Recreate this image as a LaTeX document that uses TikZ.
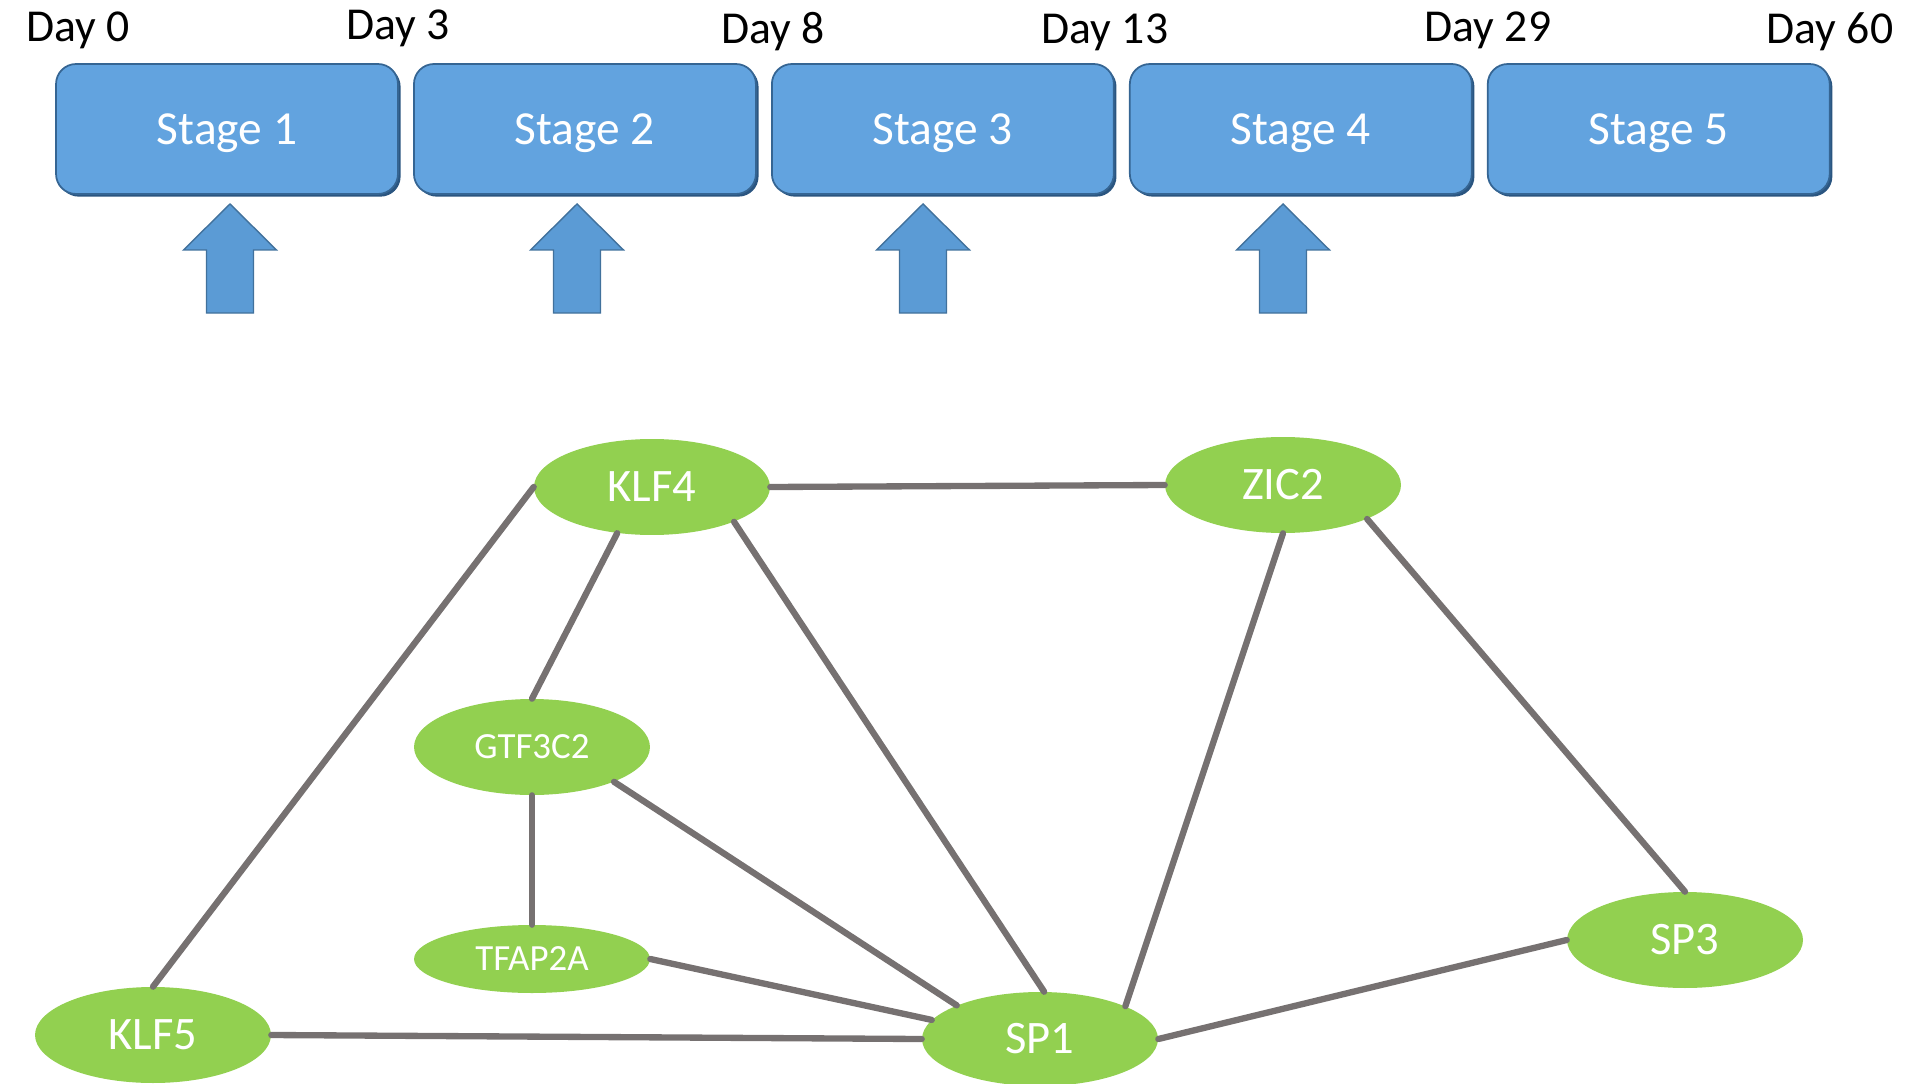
\documentclass[tikz,border=0pt]{standalone}
\usepackage{fontspec}
\setmainfont{Carlito}
\usetikzlibrary{shapes.geometric,shadows}

\definecolor{stageblue}{HTML}{62A3DF}
\definecolor{stageedge}{HTML}{2A5580}
\definecolor{arrowblue}{HTML}{5B9BD5}
\definecolor{arrowedge}{HTML}{41719C}
\definecolor{genegreen}{HTML}{92D050}
\definecolor{linkgray}{HTML}{767171}

\tikzstyle{stage} = [rectangle, rounded corners=0.4cm, minimum width=6.84cm, minimum height=2.6cm, fill=stageblue, draw=stageedge!80!stageblue, line width=1pt, text=white, text depth=0pt, font=\fontsize{27}{30}\selectfont, drop shadow={shadow xshift=1.5pt, shadow yshift=-1.5pt, fill=stageedge, opacity=1}]
\tikzstyle{day} = [anchor=base, font=\fontsize{26}{30}\selectfont]
\tikzstyle{uparrow} = [fill=arrowblue, draw=arrowedge, line width=0.8pt]
\tikzstyle{gene} = [ellipse, minimum width=4.72cm, minimum height=1.92cm, inner sep=0pt, fill=genegreen, text=white, font=\fontsize{26.5}{30}\selectfont]
\tikzstyle{small} = [font=\fontsize{21}{24}\selectfont]
\tikzstyle{link} = [draw=linkgray, line width=3.6pt, line cap=round]

\begin{document}
\begin{tikzpicture}[x=0.02cm, y=-0.02cm, node distance=7.16cm]
    \useasboundingbox (0,0) rectangle (1905,1084);
    % stages
    \node (s1) [stage] at (227,129) {Stage 1};
    \node (s2) [stage, right of=s1] {Stage 2};
    \node (s3) [stage, right of=s2] {Stage 3};
    \node (s4) [stage, right of=s3] {Stage 4};
    \node (s5) [stage, right of=s4] {Stage 5};
    \node (d0) [day] at (78,42) {Day 0};
    \node (d3) [day] at (398,40) {Day 3};
    \node (d8) [day] at (773,44) {Day 8};
    \node (d13) [day] at (1105,44) {Day 13};
    \node (d29) [day] at (1488,42) {Day 29};
    \node (d60) [day] at (1830,44) {Day 60};
    \foreach \x in {230,577,923,1283}
        \draw [uparrow] (\x,204) -- ++(46.5,46) -- ++(-23,0) -- ++(0,63) -- ++(-47,0) -- ++(0,-63) -- ++(-23,0) -- cycle;
    % network
    \node (klf4) [gene] at (652,487) {KLF4};
    \node (zic2) [gene] at (1283,485) {ZIC2};
    \node (gtf) [gene, small] at (532,747) {GTF3C2};
    \node (tfap) [gene, small, minimum height=1.36cm] at (532,959) {TFAP2A};
    \node (klf5) [gene] at (153,1035) {KLF5};
    \node (sp1) [gene, minimum height=1.88cm] at (1040,1039) {SP1};
    \node (sp3) [gene] at (1685,940) {SP3};
    \draw [link] (klf4.east) -- (zic2.west);
    \draw [link] (klf4.west) -- (klf5.north);
    \draw [link] (klf4.233) -- (gtf.north);
    \draw [link] (klf4.-23) -- (sp1.85);
    \draw [link] (zic2.south) -- (sp1.21);
    \draw [link] (zic2.-22) -- (sp3.north);
    \draw [link] (gtf.south) -- (tfap.north);
    \draw [link] (gtf.-23) -- (sp1.158);
    \draw [link] (tfap.east) -- (sp1.170);
    \draw [link] (klf5.east) -- (sp1.west);
    \draw [link] (sp3.west) -- (sp1.east);
\end{tikzpicture}
\end{document}
